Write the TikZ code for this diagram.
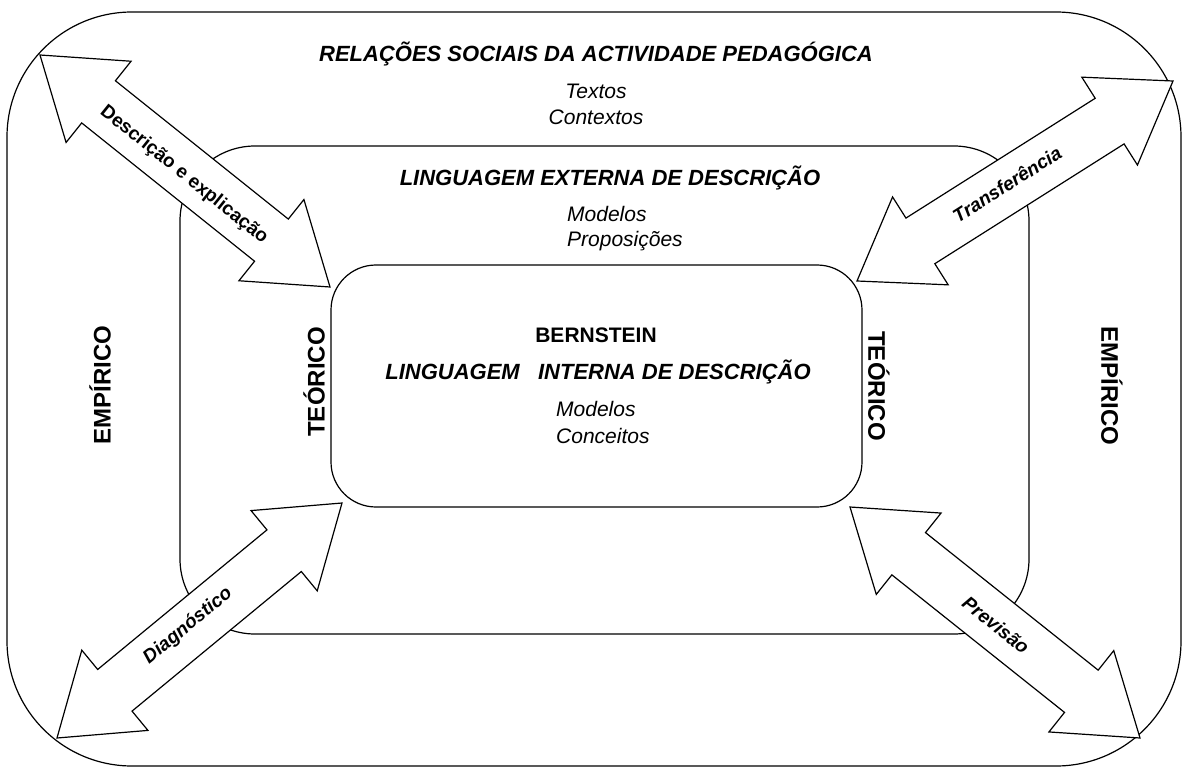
\documentclass[tikz,border=0pt]{standalone}
\usepackage{fontspec}
\setmainfont{Liberation Sans}
\usetikzlibrary{calc}
\tikzset{
  box/.style={draw=black, line width=1.2pt},
  arrowbox/.style={draw=black, fill=white, line width=1.2pt, line join=miter},
  titletxt/.style={font=\fontsize{22}{26}\selectfont\bfseries\itshape, inner sep=0pt},
  itemtxt/.style={font=\fontsize{21}{25}\selectfont\itshape, inner sep=0pt},
  vtxt/.style={font=\fontsize{24}{28}\selectfont\bfseries, inner sep=0pt},
  alab/.style={font=\fontsize{19}{22}\selectfont\bfseries, inner sep=0pt},
}
\newcommand{\blockarrow}[2]{%
  \coordinate (#1-h) at ($(#1)!75pt!(#2)$);
  \coordinate (#2-h) at ($(#2)!75pt!(#1)$);
  \draw[arrowbox] (#1)
    -- ($(#1-h)!52pt!90:(#2)$)
    -- ($(#1-h)!27pt!90:(#2)$)
    -- ($(#2-h)!27pt!-90:(#1)$)
    -- ($(#2-h)!52pt!-90:(#1)$)
    -- (#2)
    -- ($(#2-h)!52pt!90:(#1)$)
    -- ($(#2-h)!27pt!90:(#1)$)
    -- ($(#1-h)!27pt!-90:(#2)$)
    -- ($(#1-h)!52pt!-90:(#2)$)
    -- cycle;
}
\begin{document}
\begin{tikzpicture}[x=1pt,y=-1pt]
\useasboundingbox (0,0) rectangle (1183,767);
% boxes
\draw[box, rounded corners=125pt] (7,12) rectangle (1181,766);
\draw[box, rounded corners=75pt] (180,146) rectangle (1029,634);
\draw[box, rounded corners=45pt] (331,265) rectangle (862,507);
% arrow tips
\coordinate (A) at (40,55);
\coordinate (B) at (330,287);
\coordinate (C) at (1173,81);
\coordinate (D) at (857,281);
\coordinate (E) at (57,738);
\coordinate (F) at (342,503);
\coordinate (G) at (850,507);
\coordinate (H) at (1140,738);
\blockarrow{A}{B}
\blockarrow{C}{D}
\blockarrow{E}{F}
\blockarrow{G}{H}
% arrow labels
\node[alab, rotate=-38.7] (la) at (184,175) {Descrição e explicação};
\node[alab, rotate=32.3, font=\fontsize{19}{22}\selectfont\bfseries\itshape] (lc) at (1007,184) {Transferência};
\node[alab, rotate=39.5, font=\fontsize{19}{22}\selectfont\bfseries\itshape] (le) at (188,626) {Diagnóstico};
\node[alab, rotate=-38.6, font=\fontsize{19}{22}\selectfont\bfseries\itshape] (lg) at (996,625) {Previsão};
% outer texts
\node[titletxt] (t1) at (596,54) {RELAÇÕES SOCIAIS DA ACTIVIDADE PEDAGÓGICA};
\node[itemtxt] (t1a) at (596,91) {Textos};
\node[itemtxt] (t1b) at (596,117) {Contextos};
% middle texts
\node[titletxt] (t2) at (610,178) {LINGUAGEM EXTERNA DE DESCRIÇÃO};
\node[itemtxt, anchor=west] (t2a) at (567,214) {Modelos};
\node[itemtxt, anchor=west] (t2b) at (567,241) {Proposições};
% inner texts
\node[font=\fontsize{21}{25}\selectfont\bfseries, inner sep=0pt] (t3) at (596,335) {BERNSTEIN};
\node[titletxt] (t3t) at (598,372) {LINGUAGEM\ \ \ INTERNA DE DESCRIÇÃO};
\node[itemtxt, anchor=west] (t3a) at (556,409) {Modelos};
\node[itemtxt, anchor=west] (t3b) at (556,436) {Conceitos};
% vertical labels
\node[vtxt, rotate=90] (emp1) at (100,385) {EMPÍRICO};
\node[vtxt, rotate=90] (teo1) at (314,382) {TEÓRICO};
\node[vtxt, rotate=-90] (teo2) at (879,386) {TEÓRICO};
\node[vtxt, rotate=-90] (emp2) at (1112,386) {EMPÍRICO};
\end{tikzpicture}
\end{document}
